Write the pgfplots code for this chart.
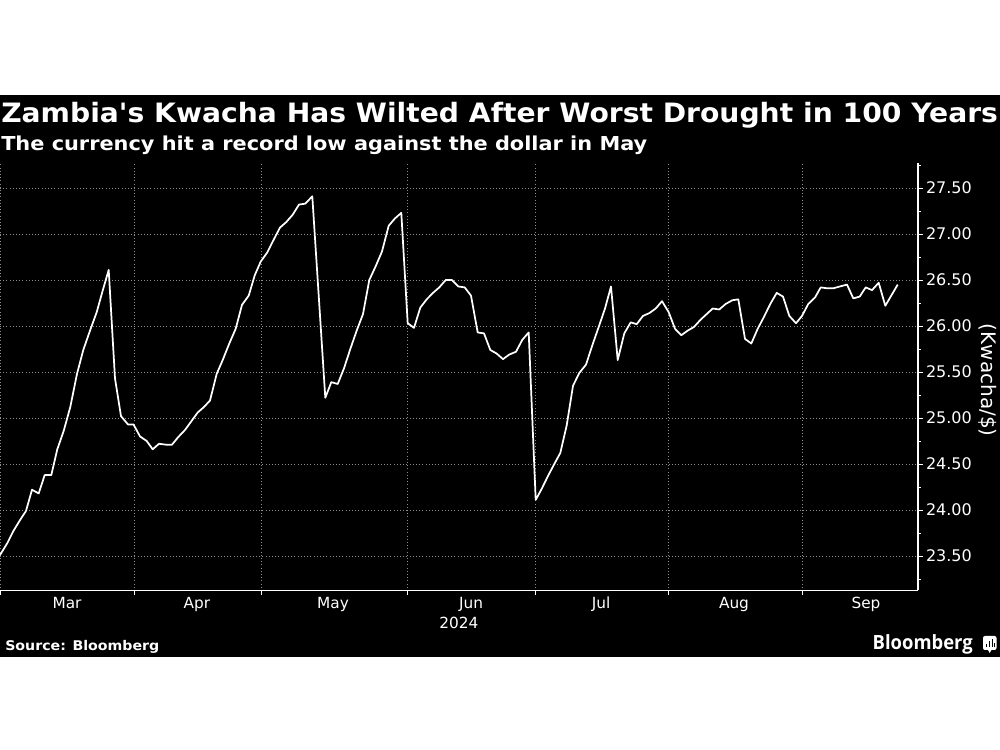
\documentclass[border=0pt]{standalone}
\usepackage{graphicx}
\usepackage{fontspec}
\setmainfont{DejaVu Sans}
\newfontfamily\titlef{DejaVu Sans}
\newfontfamily\logofont{Open Sans}
\usepackage{pgfplots}
\pgfplotsset{compat=1.18}
\usepackage{pgfplotstable}
\definecolor{gridc}{HTML}{8C8C8C}
\pgfplotstableread{
px val
0 23.51
7.3 23.64
13.3 23.77
20 23.89
26 23.99
32 24.22
38.7 24.18
44.7 24.38
51.3 24.38
57.3 24.66
63.7 24.86
70.3 25.12
77 25.48
83.3 25.74
90 25.95
96.7 26.15
102.3 26.37
108.7 26.61
115 25.43
121 25.02
128 24.93
133.5 24.93
140 24.80
146.7 24.75
152.7 24.66
159 24.72
166 24.71
172 24.71
178 24.79
185 24.87
191.7 24.97
197.7 25.06
204 25.12
210 25.19
216.7 25.48
222.7 25.63
229.3 25.81
235.7 25.97
242 26.23
248.7 26.33
254.7 26.55
260.7 26.70
267.3 26.80
273.3 26.93
280 27.07
286.3 27.13
292.7 27.21
299 27.32
305.3 27.33
312.3 27.41
325.3 25.22
331.3 25.39
337.7 25.37
344 25.54
350.3 25.75
356.7 25.95
363 26.13
369.3 26.50
375.7 26.65
382 26.81
388.7 27.09
395 27.17
401.3 27.23
407.7 26.03
414 25.98
420.3 26.20
426.7 26.29
433 26.36
439.3 26.42
445.7 26.50
452 26.50
458.3 26.43
464.7 26.42
471 26.33
477.7 25.93
484 25.92
490.3 25.74
496.7 25.70
503 25.64
509.3 25.69
516 25.72
522.3 25.85
528.7 25.93
535.7 24.11
541.7 24.23
548 24.37
554.3 24.50
560.3 24.62
566.7 24.92
573 25.35
579.3 25.49
586 25.58
592.3 25.79
598.7 25.99
605 26.19
611 26.43
617.7 25.63
624.3 25.92
630.7 26.04
636.7 26.02
643 26.11
649.3 26.14
655.7 26.19
662 26.27
668.7 26.15
675 25.97
681.3 25.90
687.7 25.95
694 25.99
700.7 26.07
706.7 26.13
712.7 26.19
719.3 26.18
725.7 26.24
732.3 26.28
738.3 26.29
745 25.86
751.3 25.81
757.7 25.97
764 26.10
770.3 26.24
776.7 26.36
783 26.32
789.3 26.11
796 26.03
802 26.11
808.3 26.24
815 26.31
820.7 26.42
827 26.41
833.3 26.41
840 26.43
847 26.45
853.3 26.30
859.7 26.32
865.7 26.42
872 26.39
878.7 26.47
885.3 26.22
897.7 26.45
}\kwacha
\begin{document}
\begin{tikzpicture}
\useasboundingbox (0pt,0pt) rectangle (750pt,562.5pt);
\fill[white] (0pt,0pt) rectangle (750pt,562.5pt);
\fill[black] (0pt,69.75pt) rectangle (750pt,491.25pt);
\begin{axis}[
  at={(0pt,119.625pt)}, anchor=south west,
  width=688.5pt, height=320.625pt, scale only axis,
  xmin=0, xmax=918, ymin=23.125, ymax=27.772,
  axis x line=bottom, axis y line=right,
  axis line style={white,-,line width=0.9pt},
  tick align=outside,
  xtick={0,134,261,407,535,668,802},
  xticklabels={},
  extra x ticks={67,197,333,471,601,734,866},
  extra x tick labels={Mar,Apr,May,Jun,Jul,Aug,Sep},
  extra x tick style={grid=none,major tick length=0pt,
    tick label style={font=\fontsize{11.5}{12}\selectfont,text=white,yshift=-1.5pt}},
  ytick={23.5,24,24.5,25,25.5,26,26.5,27,27.5},
  minor ytick={23.25,23.75,24.25,24.75,25.25,25.75,26.25,26.75,27.25,27.75},
  major tick length=3.5pt, minor tick length=2.2pt,
  every tick/.style={white,line width=0.6pt},
  grid=major,
  major grid style={gridc,dotted,line width=0.6pt},
  yticklabel style={font=\fontsize{12}{13}\selectfont,text=white,
    /pgf/number format/fixed,/pgf/number format/fixed zerofill,
    /pgf/number format/precision=2,/pgf/number format/assume math mode=true,xshift=-1pt},
  scaled y ticks=false,
  ylabel={(Kwacha/\$)},
  every axis y label/.style={at={(axis description cs:1.0763,0.492)},rotate=-90,anchor=center,
    font=\fontsize{15}{16}\selectfont,text=white},
]
\addplot[white,line width=1.3pt,line join=round,no markers] table[x=px,y=val] {\kwacha};
\end{axis}
\begin{scope}[x=0.75pt,y=0.75pt]
\node[anchor=base west,inner sep=0pt,text=white] at (1,750-123) {\resizebox{747.5pt}{\height}{\titlef\fontsize{20}{22}\selectfont\bfseries Zambia's Kwacha Has Wilted After Worst Drought in 100 Years}};
\node[anchor=base west,inner sep=0pt,text=white] at (1,750-151) {\resizebox{484.5pt}{\height}{\titlef\fontsize{14.4}{16}\selectfont\bfseries The currency hit a record low against the dollar in May}};
\node[anchor=center,inner sep=0pt,text=white,font=\fontsize{11.5}{12}\selectfont] at (459,750-623) {2024};
\node[anchor=base west,inner sep=0pt,text=white] at (5,750-651) {\resizebox{115.5pt}{\height}{\fontsize{10}{12}\selectfont\bfseries Source: Bloomberg}};
\node[anchor=base east,inner sep=0pt,text=white] at (973,750-650) {\resizebox{75pt}{\height}{\logofont\fontsize{14.7}{18}\selectfont\bfseries Bloomberg}};
\fill[white,rounded corners=1.5pt] (983,750-636) rectangle (996.5,750-650);
\fill[white] (987.5,750-649) -- (992,750-649) -- (989.7,750-653) -- cycle;
\foreach \bx/\bt in {985.5/644,988.5/641,991.5/639,993.7/643}{
  \fill[black] (\bx,750-647) rectangle ++(1.4,647-\bt);
}
\end{scope}
\end{tikzpicture}
\end{document}
